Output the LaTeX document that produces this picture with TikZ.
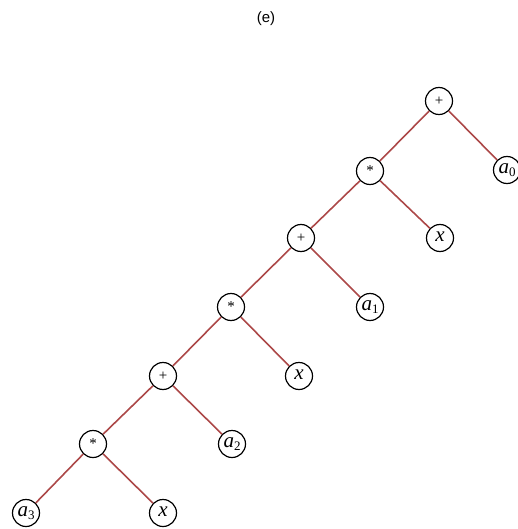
\documentclass[tikz,border=0pt]{standalone}
\usepackage{fontspec}
\setmainfont{Liberation Serif}
\setsansfont{Liberation Sans}
\newcommand{\vlab}[2]{{\itshape #1}\raisebox{-0.3ex}{\fontsize{13}{13}\selectfont #2}}
\begin{document}
\begin{tikzpicture}[x=1pt,y=-1pt,
  tnode/.style={circle,draw=black,line width=1.2pt,minimum size=27pt,inner sep=0pt,fill=white,font=\fontsize{21}{21}\selectfont},
  opnode/.style={tnode,font=\fontsize{15}{15}\selectfont},
  edge/.style={draw={rgb,255:red,172;green,72;blue,72},line width=1.6pt}]
\useasboundingbox (0,0) rectangle (517,529);
\node[font=\sffamily\fontsize{15}{15}\selectfont] (lab) at (266,19) {(e)};
\node[opnode] (p1) at (439,101) {+};
\node[opnode] (m1) at (370,171) {*};
\node[tnode] (a0) at (507,170) {\vlab{a}{0}};
\node[opnode] (p2) at (301,238) {+};
\node[tnode] (x1) at (440,238) {\vlab{x}{}};
\node[opnode] (m2) at (231,307) {*};
\node[tnode] (a1) at (370,307) {\vlab{a}{1}};
\node[opnode] (p3) at (163,376) {+};
\node[tnode] (x2) at (299,376) {\vlab{x}{}};
\node[opnode] (m3) at (93,444) {*};
\node[tnode] (a2) at (232,444) {\vlab{a}{2}};
\node[tnode] (a3) at (26,513) {\vlab{a}{3}};
\node[tnode] (x3) at (163,513) {\vlab{x}{}};
\draw[edge] (p1) -- (m1);
\draw[edge] (p1) -- (a0);
\draw[edge] (m1) -- (p2);
\draw[edge] (m1) -- (x1);
\draw[edge] (p2) -- (m2);
\draw[edge] (p2) -- (a1);
\draw[edge] (m2) -- (p3);
\draw[edge] (m2) -- (x2);
\draw[edge] (p3) -- (m3);
\draw[edge] (p3) -- (a2);
\draw[edge] (m3) -- (a3);
\draw[edge] (m3) -- (x3);
\end{tikzpicture}
\end{document}
